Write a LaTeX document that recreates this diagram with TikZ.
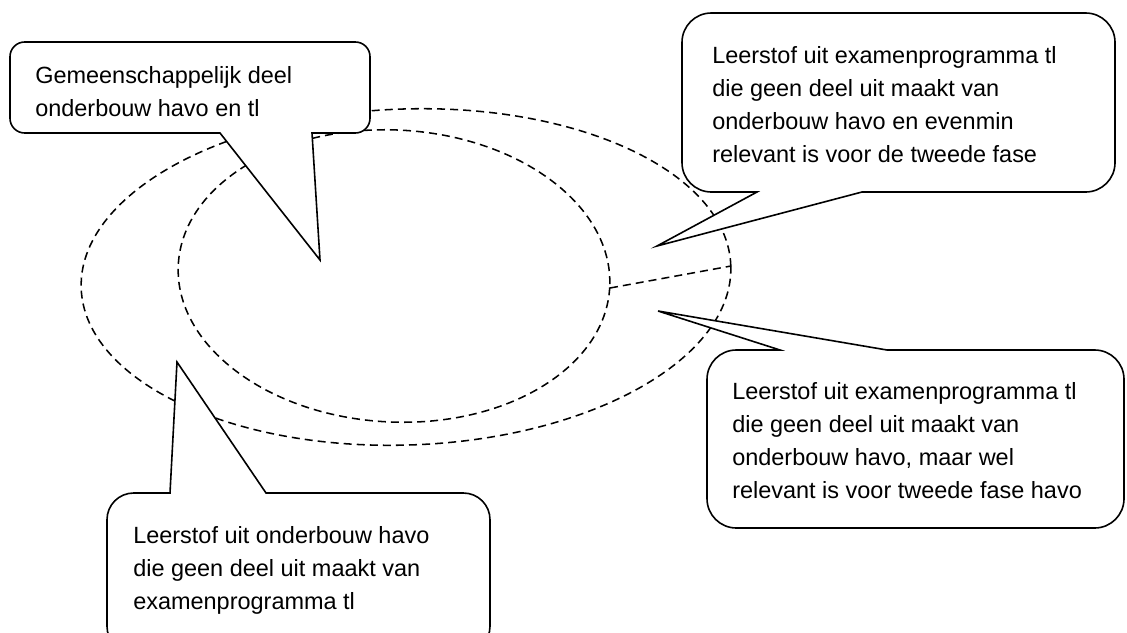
\documentclass[tikz,border=0pt]{standalone}
\usepackage{fontspec}
\setmainfont{Liberation Sans}
\usepackage{tikz}

\tikzset{
  gebied/.style={line width=1.15pt, dash pattern=on 6pt off 3.8pt},
  ballon/.style={fill=white, draw=black, line width=1.2pt, line join=miter},
  tekst/.style={anchor=north west, align=left, inner sep=0pt,
    font=\fontsize{17.6}{24.7}\selectfont}
}

\begin{document}
\begin{tikzpicture}[x=0.75pt,y=-0.75pt]
 \useasboundingbox (0,0) rectangle (1127,632);
 \clip (0,0) rectangle (1127,632);

 % de gebieden
 \draw[gebied, rotate around={2:(406,277)}] (406,277) ellipse [x radius=325, y radius=168];
 \draw[gebied, rotate around={-3:(394,276)}] (394,276) ellipse [x radius=216, y radius=146];
 \coordinate (binnenR) at (610,288);
 \coordinate (buitenR) at (731,266);
 \draw[gebied] (binnenR) -- (buitenR);

 % tips van de ballonnen
 \coordinate (tipA) at (320,260);
 \coordinate (tipB) at (657,246);
 \coordinate (tipC) at (658,311);
 \coordinate (tipD) at (177,362);

 \draw[ballon] (10,90) [rounded corners=11pt] -- (10,133) [sharp corners] -- (220,133) -- (tipA)
   -- (312,133) [rounded corners=11pt] -- (370,133) -- (370,42) -- (10,42) -- cycle;
 \node[tekst] (gemeen) at (35,66) {Gemeenschappelijk deel\\onderbouw havo en tl};

 \draw[ballon] (1115,100) [rounded corners=22pt] -- (1115,192) [sharp corners] -- (862,192) -- (tipB)
   -- (757,192) [rounded corners=22pt] -- (682,192) -- (682,13) -- (1115,13) -- cycle;
 \node[tekst] (nietHavo) at (712,46) {Leerstof uit examenprogramma tl\\die geen deel uit maakt van\\onderbouw havo en evenmin\\relevant is voor de tweede fase};

 \draw[ballon] (707,440) [rounded corners=22pt] -- (707,350) [sharp corners] -- (780,350) -- (tipC)
   -- (887,350) [rounded corners=22pt] -- (1124,350) -- (1124,528) -- (707,528) -- cycle;
 \node[tekst] (welHavo) at (732,382) {Leerstof uit examenprogramma tl\\die geen deel uit maakt van\\onderbouw havo, maar wel\\relevant is voor tweede fase havo};

 \draw[ballon] (107,570) [rounded corners=20pt] -- (107,493) [sharp corners] -- (170,493) -- (tipD)
   -- (266,493) [rounded corners=20pt] -- (490,493) -- (490,653) -- (107,653) -- cycle;
 \node[tekst] (alleenHavo) at (133,526) {Leerstof uit onderbouw havo\\die geen deel uit maakt van\\examenprogramma tl};

\end{tikzpicture}
\end{document}
